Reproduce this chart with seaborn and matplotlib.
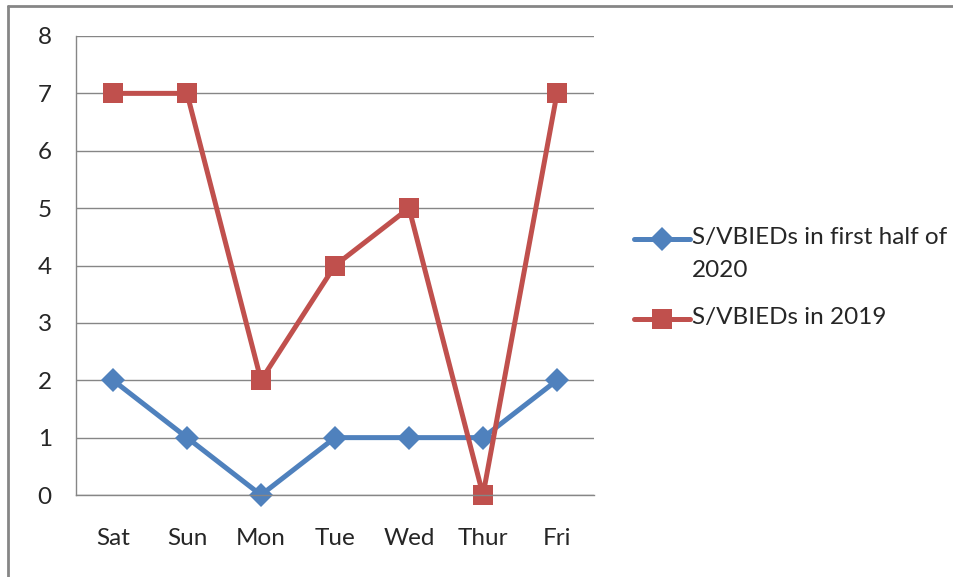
import numpy as np
import pandas as pd
import matplotlib
matplotlib.use("Agg")
import matplotlib.pyplot as plt
import seaborn as sns
from matplotlib.lines import Line2D

# data
days = ["Sat", "Sun", "Mon", "Tue", "Wed", "Thur", "Fri"]
first_half_2020 = [2, 1, 0, 1, 1, 1, 2]
year_2019 = [7, 7, 2, 4, 5, 0, 7]
label_2020 = "S/VBIEDs in first half of\n2020"
label_2019 = "S/VBIEDs in 2019"

sns.set_style("white")
plt.rcParams['font.family'] = ['Lato', 'DejaVu Sans']

df = pd.DataFrame({
    "day": days * 2,
    "count": first_half_2020 + year_2019,
    "series": [label_2020] * 7 + [label_2019] * 7,
})

blue = "#4F81BD"
red = "#C0504D"
grey = "#868686"
fs = 17.5
W, H = 954, 577

fig = plt.figure(figsize=(W / 100, H / 100), dpi=100)
ax = fig.add_axes([76 / W, 1 - 495 / H, (594 - 76) / W, (495 - 36) / H])

sns.lineplot(data=df, x="day", y="count", hue="series", style="series",
             palette=[blue, red], markers=["D", "s"], dashes=False,
             markersize=12, linewidth=3.6, markeredgewidth=0,
             legend=False, ax=ax, sort=False)
for ln in ax.lines:
    ln.set_clip_on(False)
    if ln.get_marker() == "s":
        ln.set_markersize(14)

ax.set_xlim(-0.5, 6.5)
ax.set_ylim(0, 8)
ax.set_yticks(range(0, 9))
ax.set_xlabel("")
ax.set_ylabel("")
ax.yaxis.grid(True, color=grey, linewidth=1)
ax.set_axisbelow(True)

for s in ["top", "right"]:
    ax.spines[s].set_visible(False)
for s in ["left", "bottom"]:
    ax.spines[s].set_color(grey)
    ax.spines[s].set_linewidth(1)

ax.set_xticks(range(7))
ax.set_xticklabels(days)
ax.set_xticks(np.arange(-0.5, 7, 1), minor=True)
ax.tick_params(axis="x", which="major", length=0, pad=24, labelsize=fs)
ax.tick_params(axis="x", which="minor", length=6, color=grey, width=1, direction="out")
ax.tick_params(axis="y", length=6.5, color=grey, width=1, direction="out", pad=11, labelsize=fs)

# legend drawn by hand so the marker sits on the first text line
def px(x, y):
    return x / W, 1 - y / H

entries = [(blue, "D", 12, label_2020, 239), (red, "s", 14, label_2019, 319)]
for color, mk, ms, text, yc in entries:
    x0, y0 = px(634, yc)
    x1, _ = px(690, yc)
    xm, _ = px(662, yc)
    fig.add_artist(Line2D([x0, x1], [y0, y0], color=color, lw=3.6,
                          transform=fig.transFigure))
    fig.add_artist(Line2D([xm], [y0], color=color, marker=mk, markersize=ms,
                          markeredgewidth=0, transform=fig.transFigure))
    tx, ty = px(692, yc - 12)
    fig.text(tx, ty, text, fontsize=fs, va="top", ha="left", linespacing=1.68)

# chart area border (top and left)
fig.add_artist(Line2D([8 / W, 8 / W], [0, 1 - 6 / H], color=grey, lw=2,
                      transform=fig.transFigure))
fig.add_artist(Line2D([8 / W, 1.0], [1 - 6 / H, 1 - 6 / H], color=grey, lw=2,
                      transform=fig.transFigure))

fig.savefig("out.png", dpi=100)
